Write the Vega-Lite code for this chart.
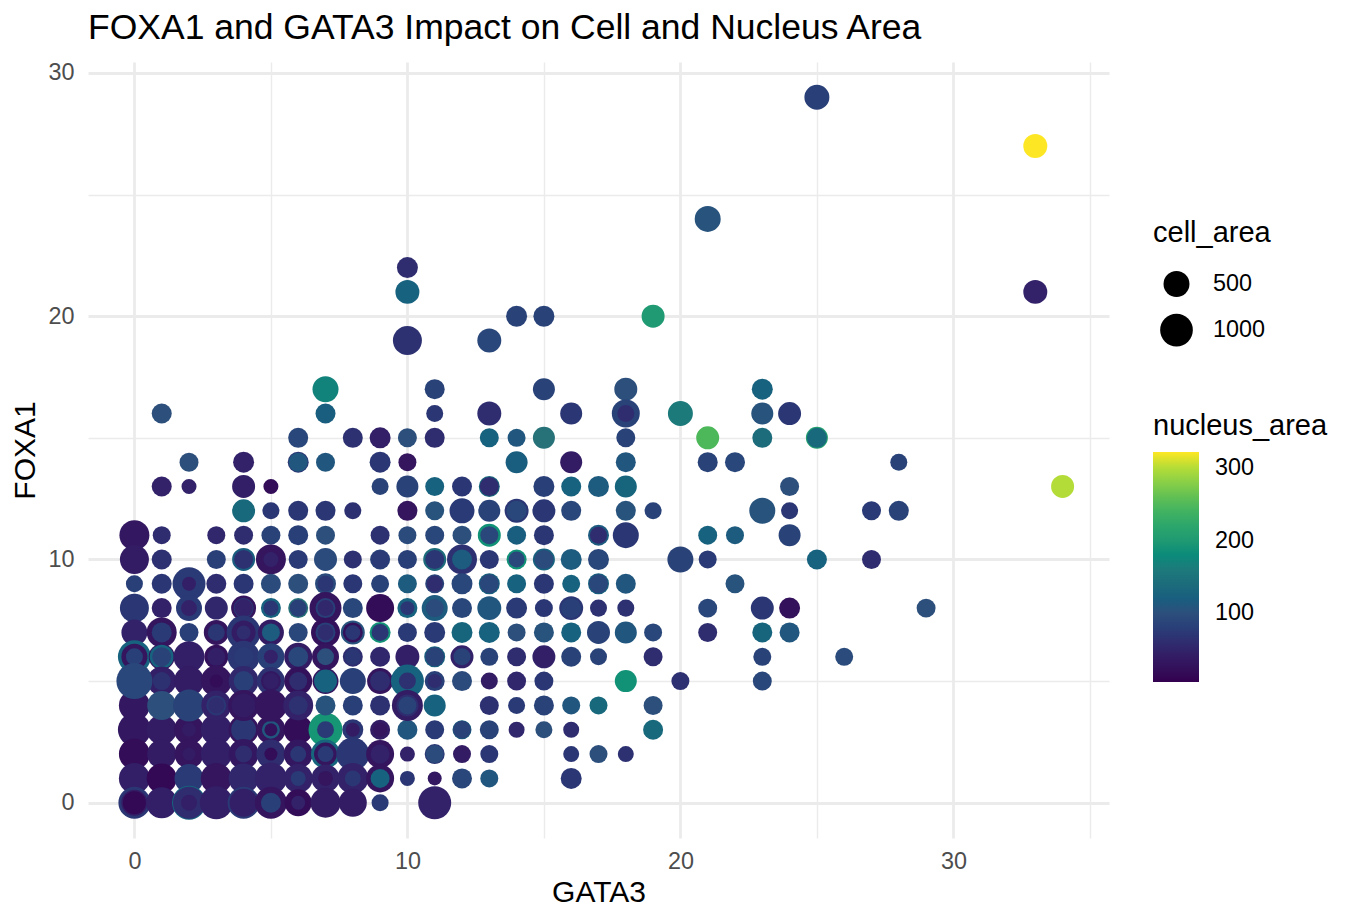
{"$schema":"https://vega.github.io/schema/vega-lite/v6.json","width":1021,"height":776,"autosize":"none","padding":{"left":88,"top":62,"right":249,"bottom":84},"background":"white",
"title":{"text":"FOXA1 and GATA3 Impact on Cell and Nucleus Area","anchor":"start","frame":"group","font":"Liberation Sans","fontSize":35.5,"fontWeight":"normal","color":"#000000","offset":14},
"data":{"values":[
{"GATA3":25,"FOXA1":29,"cell_area":447,"nucleus_area":80},
{"GATA3":33,"FOXA1":27,"cell_area":395,"nucleus_area":322},
{"GATA3":21,"FOXA1":24,"cell_area":503,"nucleus_area":105},
{"GATA3":10,"FOXA1":22,"cell_area":265,"nucleus_area":60},
{"GATA3":10,"FOXA1":21,"cell_area":395,"nucleus_area":125},
{"GATA3":33,"FOXA1":21,"cell_area":395,"nucleus_area":50},
{"GATA3":14,"FOXA1":20,"cell_area":265,"nucleus_area":85},
{"GATA3":15,"FOXA1":20,"cell_area":265,"nucleus_area":85},
{"GATA3":19,"FOXA1":20,"cell_area":348,"nucleus_area":200},
{"GATA3":10,"FOXA1":19,"cell_area":697,"nucleus_area":65},
{"GATA3":13,"FOXA1":19,"cell_area":395,"nucleus_area":90},
{"GATA3":7,"FOXA1":17,"cell_area":503,"nucleus_area":170},
{"GATA3":11,"FOXA1":17,"cell_area":229,"nucleus_area":85},
{"GATA3":15,"FOXA1":17,"cell_area":305,"nucleus_area":85},
{"GATA3":18,"FOXA1":17,"cell_area":348,"nucleus_area":100},
{"GATA3":23,"FOXA1":17,"cell_area":265,"nucleus_area":125},
{"GATA3":1,"FOXA1":16,"cell_area":229,"nucleus_area":100},
{"GATA3":7,"FOXA1":16,"cell_area":229,"nucleus_area":120},
{"GATA3":11,"FOXA1":16,"cell_area":141,"nucleus_area":70},
{"GATA3":13,"FOXA1":16,"cell_area":395,"nucleus_area":60},
{"GATA3":16,"FOXA1":16,"cell_area":305,"nucleus_area":70},
{"GATA3":18,"FOXA1":16,"cell_area":628,"nucleus_area":85},
{"GATA3":18,"FOXA1":16,"cell_area":141,"nucleus_area":60},
{"GATA3":20,"FOXA1":16,"cell_area":447,"nucleus_area":160},
{"GATA3":23,"FOXA1":16,"cell_area":305,"nucleus_area":105},
{"GATA3":24,"FOXA1":16,"cell_area":348,"nucleus_area":70},
{"GATA3":6,"FOXA1":15,"cell_area":229,"nucleus_area":90},
{"GATA3":8,"FOXA1":15,"cell_area":229,"nucleus_area":65},
{"GATA3":9,"FOXA1":15,"cell_area":265,"nucleus_area":45},
{"GATA3":10,"FOXA1":15,"cell_area":196,"nucleus_area":100},
{"GATA3":11,"FOXA1":15,"cell_area":229,"nucleus_area":60},
{"GATA3":13,"FOXA1":15,"cell_area":196,"nucleus_area":125},
{"GATA3":14,"FOXA1":15,"cell_area":167,"nucleus_area":110},
{"GATA3":15,"FOXA1":15,"cell_area":305,"nucleus_area":150},
{"GATA3":18,"FOXA1":15,"cell_area":196,"nucleus_area":85},
{"GATA3":21,"FOXA1":15,"cell_area":348,"nucleus_area":250},
{"GATA3":23,"FOXA1":15,"cell_area":229,"nucleus_area":140},
{"GATA3":25,"FOXA1":15,"cell_area":305,"nucleus_area":210},
{"GATA3":25,"FOXA1":15,"cell_area":229,"nucleus_area":135},
{"GATA3":2,"FOXA1":14,"cell_area":196,"nucleus_area":100},
{"GATA3":4,"FOXA1":14,"cell_area":265,"nucleus_area":50},
{"GATA3":6,"FOXA1":14,"cell_area":265,"nucleus_area":70},
{"GATA3":6,"FOXA1":14,"cell_area":196,"nucleus_area":110},
{"GATA3":7,"FOXA1":14,"cell_area":196,"nucleus_area":110},
{"GATA3":9,"FOXA1":14,"cell_area":265,"nucleus_area":70},
{"GATA3":10,"FOXA1":14,"cell_area":167,"nucleus_area":30},
{"GATA3":14,"FOXA1":14,"cell_area":305,"nucleus_area":120},
{"GATA3":16,"FOXA1":14,"cell_area":305,"nucleus_area":40},
{"GATA3":18,"FOXA1":14,"cell_area":229,"nucleus_area":110},
{"GATA3":21,"FOXA1":14,"cell_area":229,"nucleus_area":85},
{"GATA3":22,"FOXA1":14,"cell_area":229,"nucleus_area":90},
{"GATA3":28,"FOXA1":14,"cell_area":141,"nucleus_area":85},
{"GATA3":1,"FOXA1":13,"cell_area":229,"nucleus_area":50},
{"GATA3":2,"FOXA1":13,"cell_area":97,"nucleus_area":50},
{"GATA3":4,"FOXA1":13,"cell_area":348,"nucleus_area":45},
{"GATA3":5,"FOXA1":13,"cell_area":97,"nucleus_area":20},
{"GATA3":9,"FOXA1":13,"cell_area":141,"nucleus_area":85},
{"GATA3":10,"FOXA1":13,"cell_area":305,"nucleus_area":85},
{"GATA3":11,"FOXA1":13,"cell_area":196,"nucleus_area":125},
{"GATA3":12,"FOXA1":13,"cell_area":229,"nucleus_area":70},
{"GATA3":13,"FOXA1":13,"cell_area":265,"nucleus_area":135},
{"GATA3":13,"FOXA1":13,"cell_area":196,"nucleus_area":60},
{"GATA3":15,"FOXA1":13,"cell_area":265,"nucleus_area":80},
{"GATA3":16,"FOXA1":13,"cell_area":229,"nucleus_area":125},
{"GATA3":17,"FOXA1":13,"cell_area":265,"nucleus_area":115},
{"GATA3":18,"FOXA1":13,"cell_area":305,"nucleus_area":130},
{"GATA3":24,"FOXA1":13,"cell_area":196,"nucleus_area":100},
{"GATA3":34,"FOXA1":13,"cell_area":348,"nucleus_area":300},
{"GATA3":4,"FOXA1":12,"cell_area":348,"nucleus_area":135},
{"GATA3":5,"FOXA1":12,"cell_area":141,"nucleus_area":70},
{"GATA3":6,"FOXA1":12,"cell_area":229,"nucleus_area":70},
{"GATA3":7,"FOXA1":12,"cell_area":229,"nucleus_area":70},
{"GATA3":8,"FOXA1":12,"cell_area":141,"nucleus_area":65},
{"GATA3":10,"FOXA1":12,"cell_area":229,"nucleus_area":30},
{"GATA3":11,"FOXA1":12,"cell_area":196,"nucleus_area":105},
{"GATA3":12,"FOXA1":12,"cell_area":447,"nucleus_area":75},
{"GATA3":13,"FOXA1":12,"cell_area":305,"nucleus_area":85},
{"GATA3":14,"FOXA1":12,"cell_area":395,"nucleus_area":70},
{"GATA3":14,"FOXA1":12,"cell_area":229,"nucleus_area":90},
{"GATA3":15,"FOXA1":12,"cell_area":348,"nucleus_area":70},
{"GATA3":16,"FOXA1":12,"cell_area":229,"nucleus_area":90},
{"GATA3":18,"FOXA1":12,"cell_area":229,"nucleus_area":105},
{"GATA3":19,"FOXA1":12,"cell_area":141,"nucleus_area":85},
{"GATA3":23,"FOXA1":12,"cell_area":503,"nucleus_area":105},
{"GATA3":24,"FOXA1":12,"cell_area":141,"nucleus_area":70},
{"GATA3":27,"FOXA1":12,"cell_area":196,"nucleus_area":75},
{"GATA3":28,"FOXA1":12,"cell_area":229,"nucleus_area":85},
{"GATA3":0,"FOXA1":11,"cell_area":772,"nucleus_area":35},
{"GATA3":1,"FOXA1":11,"cell_area":167,"nucleus_area":60},
{"GATA3":3,"FOXA1":11,"cell_area":167,"nucleus_area":55},
{"GATA3":4,"FOXA1":11,"cell_area":196,"nucleus_area":60},
{"GATA3":5,"FOXA1":11,"cell_area":196,"nucleus_area":85},
{"GATA3":6,"FOXA1":11,"cell_area":229,"nucleus_area":80},
{"GATA3":7,"FOXA1":11,"cell_area":196,"nucleus_area":100},
{"GATA3":9,"FOXA1":11,"cell_area":196,"nucleus_area":65},
{"GATA3":10,"FOXA1":11,"cell_area":167,"nucleus_area":95},
{"GATA3":11,"FOXA1":11,"cell_area":196,"nucleus_area":90},
{"GATA3":12,"FOXA1":11,"cell_area":196,"nucleus_area":100},
{"GATA3":13,"FOXA1":11,"cell_area":348,"nucleus_area":190},
{"GATA3":13,"FOXA1":11,"cell_area":167,"nucleus_area":90},
{"GATA3":14,"FOXA1":11,"cell_area":196,"nucleus_area":120},
{"GATA3":15,"FOXA1":11,"cell_area":229,"nucleus_area":70},
{"GATA3":17,"FOXA1":11,"cell_area":265,"nucleus_area":115},
{"GATA3":17,"FOXA1":11,"cell_area":141,"nucleus_area":60},
{"GATA3":18,"FOXA1":11,"cell_area":503,"nucleus_area":70},
{"GATA3":21,"FOXA1":11,"cell_area":196,"nucleus_area":125},
{"GATA3":22,"FOXA1":11,"cell_area":167,"nucleus_area":115},
{"GATA3":24,"FOXA1":11,"cell_area":305,"nucleus_area":85},
{"GATA3":0,"FOXA1":10,"cell_area":697,"nucleus_area":40},
{"GATA3":1,"FOXA1":10,"cell_area":229,"nucleus_area":65},
{"GATA3":3,"FOXA1":10,"cell_area":196,"nucleus_area":80},
{"GATA3":4,"FOXA1":10,"cell_area":348,"nucleus_area":120},
{"GATA3":4,"FOXA1":10,"cell_area":196,"nucleus_area":65},
{"GATA3":5,"FOXA1":10,"cell_area":772,"nucleus_area":30},
{"GATA3":5,"FOXA1":10,"cell_area":97,"nucleus_area":50},
{"GATA3":6,"FOXA1":10,"cell_area":196,"nucleus_area":75},
{"GATA3":7,"FOXA1":10,"cell_area":348,"nucleus_area":95},
{"GATA3":8,"FOXA1":10,"cell_area":167,"nucleus_area":65},
{"GATA3":9,"FOXA1":10,"cell_area":229,"nucleus_area":85},
{"GATA3":9,"FOXA1":10,"cell_area":167,"nucleus_area":75},
{"GATA3":10,"FOXA1":10,"cell_area":196,"nucleus_area":80},
{"GATA3":11,"FOXA1":10,"cell_area":348,"nucleus_area":140},
{"GATA3":11,"FOXA1":10,"cell_area":196,"nucleus_area":70},
{"GATA3":12,"FOXA1":10,"cell_area":772,"nucleus_area":65},
{"GATA3":12,"FOXA1":10,"cell_area":229,"nucleus_area":115},
{"GATA3":13,"FOXA1":10,"cell_area":196,"nucleus_area":70},
{"GATA3":14,"FOXA1":10,"cell_area":229,"nucleus_area":190},
{"GATA3":14,"FOXA1":10,"cell_area":117,"nucleus_area":90},
{"GATA3":15,"FOXA1":10,"cell_area":305,"nucleus_area":125},
{"GATA3":15,"FOXA1":10,"cell_area":196,"nucleus_area":95},
{"GATA3":16,"FOXA1":10,"cell_area":265,"nucleus_area":115},
{"GATA3":17,"FOXA1":10,"cell_area":265,"nucleus_area":90},
{"GATA3":20,"FOXA1":10,"cell_area":503,"nucleus_area":85},
{"GATA3":21,"FOXA1":10,"cell_area":167,"nucleus_area":75},
{"GATA3":25,"FOXA1":10,"cell_area":229,"nucleus_area":125},
{"GATA3":27,"FOXA1":10,"cell_area":196,"nucleus_area":60},
{"GATA3":0,"FOXA1":9,"cell_area":141,"nucleus_area":80},
{"GATA3":1,"FOXA1":9,"cell_area":229,"nucleus_area":70},
{"GATA3":2,"FOXA1":9,"cell_area":1028,"nucleus_area":75},
{"GATA3":2,"FOXA1":9,"cell_area":78,"nucleus_area":45},
{"GATA3":3,"FOXA1":9,"cell_area":229,"nucleus_area":60},
{"GATA3":4,"FOXA1":9,"cell_area":229,"nucleus_area":70},
{"GATA3":5,"FOXA1":9,"cell_area":229,"nucleus_area":95},
{"GATA3":6,"FOXA1":9,"cell_area":229,"nucleus_area":100},
{"GATA3":7,"FOXA1":9,"cell_area":265,"nucleus_area":95},
{"GATA3":7,"FOXA1":9,"cell_area":117,"nucleus_area":70},
{"GATA3":8,"FOXA1":9,"cell_area":196,"nucleus_area":70},
{"GATA3":9,"FOXA1":9,"cell_area":167,"nucleus_area":85},
{"GATA3":10,"FOXA1":9,"cell_area":196,"nucleus_area":115},
{"GATA3":11,"FOXA1":9,"cell_area":196,"nucleus_area":85},
{"GATA3":11,"FOXA1":9,"cell_area":117,"nucleus_area":60},
{"GATA3":12,"FOXA1":9,"cell_area":265,"nucleus_area":90},
{"GATA3":13,"FOXA1":9,"cell_area":265,"nucleus_area":125},
{"GATA3":13,"FOXA1":9,"cell_area":196,"nucleus_area":90},
{"GATA3":14,"FOXA1":9,"cell_area":196,"nucleus_area":125},
{"GATA3":15,"FOXA1":9,"cell_area":229,"nucleus_area":70},
{"GATA3":16,"FOXA1":9,"cell_area":167,"nucleus_area":125},
{"GATA3":17,"FOXA1":9,"cell_area":265,"nucleus_area":125},
{"GATA3":17,"FOXA1":9,"cell_area":196,"nucleus_area":90},
{"GATA3":18,"FOXA1":9,"cell_area":229,"nucleus_area":110},
{"GATA3":22,"FOXA1":9,"cell_area":196,"nucleus_area":105},
{"GATA3":0,"FOXA1":8,"cell_area":697,"nucleus_area":70},
{"GATA3":1,"FOXA1":8,"cell_area":229,"nucleus_area":50},
{"GATA3":2,"FOXA1":8,"cell_area":503,"nucleus_area":75},
{"GATA3":2,"FOXA1":8,"cell_area":117,"nucleus_area":50},
{"GATA3":3,"FOXA1":8,"cell_area":348,"nucleus_area":55},
{"GATA3":4,"FOXA1":8,"cell_area":447,"nucleus_area":30},
{"GATA3":4,"FOXA1":8,"cell_area":229,"nucleus_area":70},
{"GATA3":4,"FOXA1":8,"cell_area":167,"nucleus_area":50},
{"GATA3":5,"FOXA1":8,"cell_area":229,"nucleus_area":125},
{"GATA3":5,"FOXA1":8,"cell_area":97,"nucleus_area":70},
{"GATA3":6,"FOXA1":8,"cell_area":229,"nucleus_area":150},
{"GATA3":6,"FOXA1":8,"cell_area":141,"nucleus_area":80},
{"GATA3":7,"FOXA1":8,"cell_area":937,"nucleus_area":30},
{"GATA3":7,"FOXA1":8,"cell_area":229,"nucleus_area":80},
{"GATA3":7,"FOXA1":8,"cell_area":117,"nucleus_area":55},
{"GATA3":8,"FOXA1":8,"cell_area":229,"nucleus_area":90},
{"GATA3":9,"FOXA1":8,"cell_area":628,"nucleus_area":20},
{"GATA3":10,"FOXA1":8,"cell_area":229,"nucleus_area":125},
{"GATA3":10,"FOXA1":8,"cell_area":78,"nucleus_area":70},
{"GATA3":11,"FOXA1":8,"cell_area":503,"nucleus_area":115},
{"GATA3":11,"FOXA1":8,"cell_area":167,"nucleus_area":95},
{"GATA3":12,"FOXA1":8,"cell_area":229,"nucleus_area":90},
{"GATA3":13,"FOXA1":8,"cell_area":395,"nucleus_area":110},
{"GATA3":14,"FOXA1":8,"cell_area":265,"nucleus_area":75},
{"GATA3":15,"FOXA1":8,"cell_area":167,"nucleus_area":70},
{"GATA3":16,"FOXA1":8,"cell_area":395,"nucleus_area":70},
{"GATA3":16,"FOXA1":8,"cell_area":229,"nucleus_area":80},
{"GATA3":17,"FOXA1":8,"cell_area":141,"nucleus_area":65},
{"GATA3":18,"FOXA1":8,"cell_area":141,"nucleus_area":65},
{"GATA3":21,"FOXA1":8,"cell_area":196,"nucleus_area":90},
{"GATA3":23,"FOXA1":8,"cell_area":348,"nucleus_area":70},
{"GATA3":24,"FOXA1":8,"cell_area":265,"nucleus_area":25},
{"GATA3":29,"FOXA1":8,"cell_area":196,"nucleus_area":100},
{"GATA3":0,"FOXA1":7,"cell_area":503,"nucleus_area":50},
{"GATA3":1,"FOXA1":7,"cell_area":772,"nucleus_area":30},
{"GATA3":1,"FOXA1":7,"cell_area":229,"nucleus_area":75},
{"GATA3":2,"FOXA1":7,"cell_area":196,"nucleus_area":80},
{"GATA3":3,"FOXA1":7,"cell_area":447,"nucleus_area":30},
{"GATA3":3,"FOXA1":7,"cell_area":141,"nucleus_area":70},
{"GATA3":4,"FOXA1":7,"cell_area":1124,"nucleus_area":70},
{"GATA3":4,"FOXA1":7,"cell_area":395,"nucleus_area":40},
{"GATA3":4,"FOXA1":7,"cell_area":78,"nucleus_area":60},
{"GATA3":5,"FOXA1":7,"cell_area":503,"nucleus_area":40},
{"GATA3":5,"FOXA1":7,"cell_area":167,"nucleus_area":115},
{"GATA3":6,"FOXA1":7,"cell_area":196,"nucleus_area":90},
{"GATA3":7,"FOXA1":7,"cell_area":697,"nucleus_area":25},
{"GATA3":7,"FOXA1":7,"cell_area":229,"nucleus_area":80},
{"GATA3":7,"FOXA1":7,"cell_area":117,"nucleus_area":60},
{"GATA3":8,"FOXA1":7,"cell_area":395,"nucleus_area":105},
{"GATA3":8,"FOXA1":7,"cell_area":229,"nucleus_area":25},
{"GATA3":8,"FOXA1":7,"cell_area":97,"nucleus_area":70},
{"GATA3":9,"FOXA1":7,"cell_area":265,"nucleus_area":190},
{"GATA3":9,"FOXA1":7,"cell_area":141,"nucleus_area":70},
{"GATA3":10,"FOXA1":7,"cell_area":196,"nucleus_area":75},
{"GATA3":11,"FOXA1":7,"cell_area":265,"nucleus_area":75},
{"GATA3":12,"FOXA1":7,"cell_area":265,"nucleus_area":130},
{"GATA3":13,"FOXA1":7,"cell_area":265,"nucleus_area":125},
{"GATA3":14,"FOXA1":7,"cell_area":167,"nucleus_area":100},
{"GATA3":15,"FOXA1":7,"cell_area":229,"nucleus_area":105},
{"GATA3":16,"FOXA1":7,"cell_area":229,"nucleus_area":125},
{"GATA3":17,"FOXA1":7,"cell_area":348,"nucleus_area":85},
{"GATA3":18,"FOXA1":7,"cell_area":305,"nucleus_area":110},
{"GATA3":19,"FOXA1":7,"cell_area":167,"nucleus_area":90},
{"GATA3":21,"FOXA1":7,"cell_area":196,"nucleus_area":60},
{"GATA3":23,"FOXA1":7,"cell_area":229,"nucleus_area":130},
{"GATA3":24,"FOXA1":7,"cell_area":229,"nucleus_area":110},
{"GATA3":0,"FOXA1":6,"cell_area":1028,"nucleus_area":125},
{"GATA3":0,"FOXA1":6,"cell_area":503,"nucleus_area":30},
{"GATA3":0,"FOXA1":6,"cell_area":141,"nucleus_area":80},
{"GATA3":1,"FOXA1":6,"cell_area":503,"nucleus_area":30},
{"GATA3":1,"FOXA1":6,"cell_area":395,"nucleus_area":125},
{"GATA3":1,"FOXA1":6,"cell_area":196,"nucleus_area":85},
{"GATA3":2,"FOXA1":6,"cell_area":852,"nucleus_area":45},
{"GATA3":3,"FOXA1":6,"cell_area":395,"nucleus_area":25},
{"GATA3":3,"FOXA1":6,"cell_area":167,"nucleus_area":45},
{"GATA3":4,"FOXA1":6,"cell_area":937,"nucleus_area":70},
{"GATA3":4,"FOXA1":6,"cell_area":229,"nucleus_area":75},
{"GATA3":5,"FOXA1":6,"cell_area":563,"nucleus_area":80},
{"GATA3":5,"FOXA1":6,"cell_area":78,"nucleus_area":50},
{"GATA3":6,"FOXA1":6,"cell_area":628,"nucleus_area":40},
{"GATA3":6,"FOXA1":6,"cell_area":229,"nucleus_area":90},
{"GATA3":7,"FOXA1":6,"cell_area":563,"nucleus_area":30},
{"GATA3":7,"FOXA1":6,"cell_area":141,"nucleus_area":100},
{"GATA3":8,"FOXA1":6,"cell_area":229,"nucleus_area":60},
{"GATA3":8,"FOXA1":6,"cell_area":117,"nucleus_area":70},
{"GATA3":9,"FOXA1":6,"cell_area":229,"nucleus_area":55},
{"GATA3":10,"FOXA1":6,"cell_area":395,"nucleus_area":45},
{"GATA3":11,"FOXA1":6,"cell_area":265,"nucleus_area":125},
{"GATA3":11,"FOXA1":6,"cell_area":196,"nucleus_area":85},
{"GATA3":12,"FOXA1":6,"cell_area":348,"nucleus_area":50},
{"GATA3":12,"FOXA1":6,"cell_area":141,"nucleus_area":85},
{"GATA3":13,"FOXA1":6,"cell_area":167,"nucleus_area":85},
{"GATA3":14,"FOXA1":6,"cell_area":196,"nucleus_area":60},
{"GATA3":15,"FOXA1":6,"cell_area":348,"nucleus_area":50},
{"GATA3":15,"FOXA1":6,"cell_area":229,"nucleus_area":45},
{"GATA3":16,"FOXA1":6,"cell_area":229,"nucleus_area":85},
{"GATA3":17,"FOXA1":6,"cell_area":141,"nucleus_area":85},
{"GATA3":19,"FOXA1":6,"cell_area":196,"nucleus_area":60},
{"GATA3":23,"FOXA1":6,"cell_area":167,"nucleus_area":85},
{"GATA3":26,"FOXA1":6,"cell_area":167,"nucleus_area":95},
{"GATA3":1,"FOXA1":5,"cell_area":697,"nucleus_area":45},
{"GATA3":1,"FOXA1":5,"cell_area":167,"nucleus_area":65},
{"GATA3":2,"FOXA1":5,"cell_area":772,"nucleus_area":40},
{"GATA3":3,"FOXA1":5,"cell_area":852,"nucleus_area":30},
{"GATA3":3,"FOXA1":5,"cell_area":63,"nucleus_area":20},
{"GATA3":4,"FOXA1":5,"cell_area":772,"nucleus_area":55},
{"GATA3":4,"FOXA1":5,"cell_area":229,"nucleus_area":80},
{"GATA3":5,"FOXA1":5,"cell_area":628,"nucleus_area":65},
{"GATA3":5,"FOXA1":5,"cell_area":229,"nucleus_area":35},
{"GATA3":5,"FOXA1":5,"cell_area":117,"nucleus_area":45},
{"GATA3":6,"FOXA1":5,"cell_area":628,"nucleus_area":25},
{"GATA3":6,"FOXA1":5,"cell_area":167,"nucleus_area":60},
{"GATA3":7,"FOXA1":5,"cell_area":503,"nucleus_area":30},
{"GATA3":7,"FOXA1":5,"cell_area":348,"nucleus_area":125},
{"GATA3":8,"FOXA1":5,"cell_area":503,"nucleus_area":80},
{"GATA3":9,"FOXA1":5,"cell_area":503,"nucleus_area":30},
{"GATA3":9,"FOXA1":5,"cell_area":229,"nucleus_area":60},
{"GATA3":10,"FOXA1":5,"cell_area":1028,"nucleus_area":125},
{"GATA3":10,"FOXA1":5,"cell_area":141,"nucleus_area":65},
{"GATA3":11,"FOXA1":5,"cell_area":229,"nucleus_area":80},
{"GATA3":11,"FOXA1":5,"cell_area":78,"nucleus_area":60},
{"GATA3":12,"FOXA1":5,"cell_area":229,"nucleus_area":95},
{"GATA3":13,"FOXA1":5,"cell_area":141,"nucleus_area":40},
{"GATA3":14,"FOXA1":5,"cell_area":196,"nucleus_area":55},
{"GATA3":15,"FOXA1":5,"cell_area":196,"nucleus_area":70},
{"GATA3":18,"FOXA1":5,"cell_area":305,"nucleus_area":190},
{"GATA3":20,"FOXA1":5,"cell_area":167,"nucleus_area":65},
{"GATA3":23,"FOXA1":5,"cell_area":196,"nucleus_area":90},
{"GATA3":0,"FOXA1":3,"cell_area":1028,"nucleus_area":35},
{"GATA3":1,"FOXA1":3,"cell_area":772,"nucleus_area":40},
{"GATA3":2,"FOXA1":3,"cell_area":772,"nucleus_area":30},
{"GATA3":2,"FOXA1":3,"cell_area":78,"nucleus_area":40},
{"GATA3":3,"FOXA1":3,"cell_area":852,"nucleus_area":45},
{"GATA3":4,"FOXA1":3,"cell_area":772,"nucleus_area":30},
{"GATA3":4,"FOXA1":3,"cell_area":447,"nucleus_area":70},
{"GATA3":5,"FOXA1":3,"cell_area":697,"nucleus_area":30},
{"GATA3":5,"FOXA1":3,"cell_area":167,"nucleus_area":110},
{"GATA3":5,"FOXA1":3,"cell_area":63,"nucleus_area":25},
{"GATA3":6,"FOXA1":3,"cell_area":697,"nucleus_area":20},
{"GATA3":7,"FOXA1":3,"cell_area":1124,"nucleus_area":195},
{"GATA3":7,"FOXA1":3,"cell_area":141,"nucleus_area":75},
{"GATA3":8,"FOXA1":3,"cell_area":265,"nucleus_area":70},
{"GATA3":8,"FOXA1":3,"cell_area":78,"nucleus_area":40},
{"GATA3":9,"FOXA1":3,"cell_area":229,"nucleus_area":40},
{"GATA3":9,"FOXA1":3,"cell_area":78,"nucleus_area":30},
{"GATA3":10,"FOXA1":3,"cell_area":229,"nucleus_area":110},
{"GATA3":11,"FOXA1":3,"cell_area":196,"nucleus_area":75},
{"GATA3":12,"FOXA1":3,"cell_area":196,"nucleus_area":125},
{"GATA3":12,"FOXA1":3,"cell_area":167,"nucleus_area":85},
{"GATA3":13,"FOXA1":3,"cell_area":196,"nucleus_area":85},
{"GATA3":14,"FOXA1":3,"cell_area":117,"nucleus_area":55},
{"GATA3":15,"FOXA1":3,"cell_area":141,"nucleus_area":100},
{"GATA3":16,"FOXA1":3,"cell_area":117,"nucleus_area":60},
{"GATA3":19,"FOXA1":3,"cell_area":229,"nucleus_area":135},
{"GATA3":0,"FOXA1":2,"cell_area":852,"nucleus_area":20},
{"GATA3":1,"FOXA1":2,"cell_area":697,"nucleus_area":40},
{"GATA3":2,"FOXA1":2,"cell_area":697,"nucleus_area":30},
{"GATA3":2,"FOXA1":2,"cell_area":63,"nucleus_area":40},
{"GATA3":3,"FOXA1":2,"cell_area":852,"nucleus_area":45},
{"GATA3":4,"FOXA1":2,"cell_area":772,"nucleus_area":35},
{"GATA3":4,"FOXA1":2,"cell_area":141,"nucleus_area":60},
{"GATA3":5,"FOXA1":2,"cell_area":697,"nucleus_area":60},
{"GATA3":5,"FOXA1":2,"cell_area":63,"nucleus_area":20},
{"GATA3":6,"FOXA1":2,"cell_area":697,"nucleus_area":35},
{"GATA3":6,"FOXA1":2,"cell_area":117,"nucleus_area":70},
{"GATA3":7,"FOXA1":2,"cell_area":697,"nucleus_area":130},
{"GATA3":7,"FOXA1":2,"cell_area":348,"nucleus_area":30},
{"GATA3":7,"FOXA1":2,"cell_area":117,"nucleus_area":75},
{"GATA3":8,"FOXA1":2,"cell_area":1028,"nucleus_area":70},
{"GATA3":9,"FOXA1":2,"cell_area":628,"nucleus_area":30},
{"GATA3":9,"FOXA1":2,"cell_area":196,"nucleus_area":50},
{"GATA3":10,"FOXA1":2,"cell_area":97,"nucleus_area":50},
{"GATA3":11,"FOXA1":2,"cell_area":229,"nucleus_area":70},
{"GATA3":11,"FOXA1":2,"cell_area":167,"nucleus_area":95},
{"GATA3":12,"FOXA1":2,"cell_area":167,"nucleus_area":40},
{"GATA3":13,"FOXA1":2,"cell_area":167,"nucleus_area":70},
{"GATA3":16,"FOXA1":2,"cell_area":117,"nucleus_area":70},
{"GATA3":17,"FOXA1":2,"cell_area":167,"nucleus_area":100},
{"GATA3":18,"FOXA1":2,"cell_area":117,"nucleus_area":65},
{"GATA3":0,"FOXA1":1,"cell_area":852,"nucleus_area":45},
{"GATA3":1,"FOXA1":1,"cell_area":772,"nucleus_area":15},
{"GATA3":2,"FOXA1":1,"cell_area":697,"nucleus_area":75},
{"GATA3":3,"FOXA1":1,"cell_area":852,"nucleus_area":30},
{"GATA3":4,"FOXA1":1,"cell_area":772,"nucleus_area":55},
{"GATA3":5,"FOXA1":1,"cell_area":937,"nucleus_area":50},
{"GATA3":6,"FOXA1":1,"cell_area":697,"nucleus_area":50},
{"GATA3":6,"FOXA1":1,"cell_area":97,"nucleus_area":75},
{"GATA3":7,"FOXA1":1,"cell_area":628,"nucleus_area":50},
{"GATA3":7,"FOXA1":1,"cell_area":97,"nucleus_area":30},
{"GATA3":8,"FOXA1":1,"cell_area":852,"nucleus_area":50},
{"GATA3":8,"FOXA1":1,"cell_area":117,"nucleus_area":70},
{"GATA3":9,"FOXA1":1,"cell_area":628,"nucleus_area":30},
{"GATA3":9,"FOXA1":1,"cell_area":196,"nucleus_area":125},
{"GATA3":10,"FOXA1":1,"cell_area":97,"nucleus_area":70},
{"GATA3":11,"FOXA1":1,"cell_area":78,"nucleus_area":35},
{"GATA3":12,"FOXA1":1,"cell_area":229,"nucleus_area":90},
{"GATA3":13,"FOXA1":1,"cell_area":167,"nucleus_area":110},
{"GATA3":16,"FOXA1":1,"cell_area":265,"nucleus_area":70},
{"GATA3":0,"FOXA1":0,"cell_area":937,"nucleus_area":70},
{"GATA3":0,"FOXA1":0,"cell_area":503,"nucleus_area":40},
{"GATA3":0,"FOXA1":0,"cell_area":348,"nucleus_area":15},
{"GATA3":1,"FOXA1":0,"cell_area":852,"nucleus_area":45},
{"GATA3":2,"FOXA1":0,"cell_area":1124,"nucleus_area":125},
{"GATA3":2,"FOXA1":0,"cell_area":937,"nucleus_area":60},
{"GATA3":2,"FOXA1":0,"cell_area":117,"nucleus_area":45},
{"GATA3":3,"FOXA1":0,"cell_area":1028,"nucleus_area":45},
{"GATA3":4,"FOXA1":0,"cell_area":937,"nucleus_area":75},
{"GATA3":4,"FOXA1":0,"cell_area":628,"nucleus_area":45},
{"GATA3":5,"FOXA1":0,"cell_area":937,"nucleus_area":30},
{"GATA3":5,"FOXA1":0,"cell_area":229,"nucleus_area":80},
{"GATA3":6,"FOXA1":0,"cell_area":563,"nucleus_area":20},
{"GATA3":6,"FOXA1":0,"cell_area":78,"nucleus_area":50},
{"GATA3":7,"FOXA1":0,"cell_area":772,"nucleus_area":40},
{"GATA3":8,"FOXA1":0,"cell_area":628,"nucleus_area":40},
{"GATA3":9,"FOXA1":0,"cell_area":141,"nucleus_area":75},
{"GATA3":11,"FOXA1":0,"cell_area":1028,"nucleus_area":50},
{"GATA3":0,"FOXA1":4,"cell_area":852,"nucleus_area":35},
{"GATA3":1,"FOXA1":4,"cell_area":697,"nucleus_area":100},
{"GATA3":2,"FOXA1":4,"cell_area":937,"nucleus_area":85},
{"GATA3":3,"FOXA1":4,"cell_area":772,"nucleus_area":50},
{"GATA3":3,"FOXA1":4,"cell_area":229,"nucleus_area":70},
{"GATA3":3,"FOXA1":4,"cell_area":117,"nucleus_area":60},
{"GATA3":4,"FOXA1":4,"cell_area":852,"nucleus_area":30},
{"GATA3":4,"FOXA1":4,"cell_area":395,"nucleus_area":40},
{"GATA3":5,"FOXA1":4,"cell_area":937,"nucleus_area":30},
{"GATA3":6,"FOXA1":4,"cell_area":772,"nucleus_area":50},
{"GATA3":6,"FOXA1":4,"cell_area":196,"nucleus_area":65},
{"GATA3":7,"FOXA1":4,"cell_area":229,"nucleus_area":105},
{"GATA3":8,"FOXA1":4,"cell_area":229,"nucleus_area":80},
{"GATA3":9,"FOXA1":4,"cell_area":229,"nucleus_area":65},
{"GATA3":10,"FOXA1":4,"cell_area":852,"nucleus_area":40},
{"GATA3":10,"FOXA1":4,"cell_area":305,"nucleus_area":60},
{"GATA3":10,"FOXA1":4,"cell_area":167,"nucleus_area":85},
{"GATA3":11,"FOXA1":4,"cell_area":305,"nucleus_area":125},
{"GATA3":13,"FOXA1":4,"cell_area":196,"nucleus_area":65},
{"GATA3":14,"FOXA1":4,"cell_area":141,"nucleus_area":75},
{"GATA3":15,"FOXA1":4,"cell_area":229,"nucleus_area":85},
{"GATA3":16,"FOXA1":4,"cell_area":167,"nucleus_area":110},
{"GATA3":17,"FOXA1":4,"cell_area":167,"nucleus_area":135},
{"GATA3":19,"FOXA1":4,"cell_area":196,"nucleus_area":100},
{"GATA3":0,"FOXA1":5,"cell_area":1334,"nucleus_area":90}
]},
"mark":{"type":"point","filled":true,"opacity":1,"strokeWidth":0},
"encoding":{
"x":{"field":"GATA3","type":"quantitative","scale":{"domain":[-1.7,35.7],"nice":false,"zero":false},
"axis":{"title":"GATA3","values":[0,5,10,15,20,25,30,35],"labelExpr":"datum.value % 10 === 0 ? datum.label : ''","domain":false,"ticks":false,"labelFont":"Liberation Sans","labelFontSize":23.4,"labelColor":"#4D4D4D","labelPadding":12,"titleFont":"Liberation Sans","titleFontSize":30,"titleFontWeight":"normal","titleColor":"#000000","titlePadding":5,"gridColor":"#EBEBEB","gridWidth":{"condition":{"test":"datum.value % 10 === 0","value":2.8},"value":1.4}}},
"y":{"field":"FOXA1","type":"quantitative","scale":{"domain":[-1.45,30.45],"nice":false,"zero":false},
"axis":{"title":"FOXA1","values":[0,5,10,15,20,25,30],"labelExpr":"datum.value % 10 === 0 ? datum.label : ''","domain":false,"ticks":false,"labelFont":"Liberation Sans","labelFontSize":23.4,"labelColor":"#4D4D4D","labelPadding":14,"titleFont":"Liberation Sans","titleFontSize":30,"titleFontWeight":"normal","titleColor":"#000000","titlePadding":7,"gridColor":"#EBEBEB","gridWidth":{"condition":{"test":"datum.value % 10 === 0","value":2.8},"value":1.4}}},
"size":{"field":"cell_area","type":"quantitative","scale":{"type":"pow","exponent":0.667,"domain":[0,1000],"range":[0,1069]},
"legend":{"title":"cell_area","orient":"none","legendX":1065,"legendY":157,"values":[500,1000],"format":"d","titleFont":"Liberation Sans","titleFontSize":29,"titleFontWeight":"normal","titleColor":"#000000","titlePadding":23,"labelFont":"Liberation Sans","labelFontSize":23.4,"labelColor":"#000000","labelOffset":20,"symbolOffset":7,"symbolFillColor":"#000000","symbolStrokeColor":"#000000","symbolStrokeWidth":0,"symbolType":"circle","rowPadding":16.6}},
"color":{"field":"nucleus_area","type":"quantitative","scale":{"domain":[5,50,100,150,200,250,300,322],"range":["#33004f","#33226a","#2c4f7c","#277278","#1f9a72","#4db85a","#b4dc38","#fde725"],"nice":false,"zero":false},
"legend":{"title":"nucleus_area","orient":"none","legendX":1065,"legendY":350,"values":[100,200,300],"gradientLength":230,"gradientThickness":46,"gradientStrokeWidth":0,"titleFont":"Liberation Sans","titleFontSize":29,"titleFontWeight":"normal","titleColor":"#000000","titlePadding":11,"labelFont":"Liberation Sans","labelFontSize":23.4,"labelColor":"#000000","labelOffset":16}}
},
"config":{"view":{"stroke":null}}
}
